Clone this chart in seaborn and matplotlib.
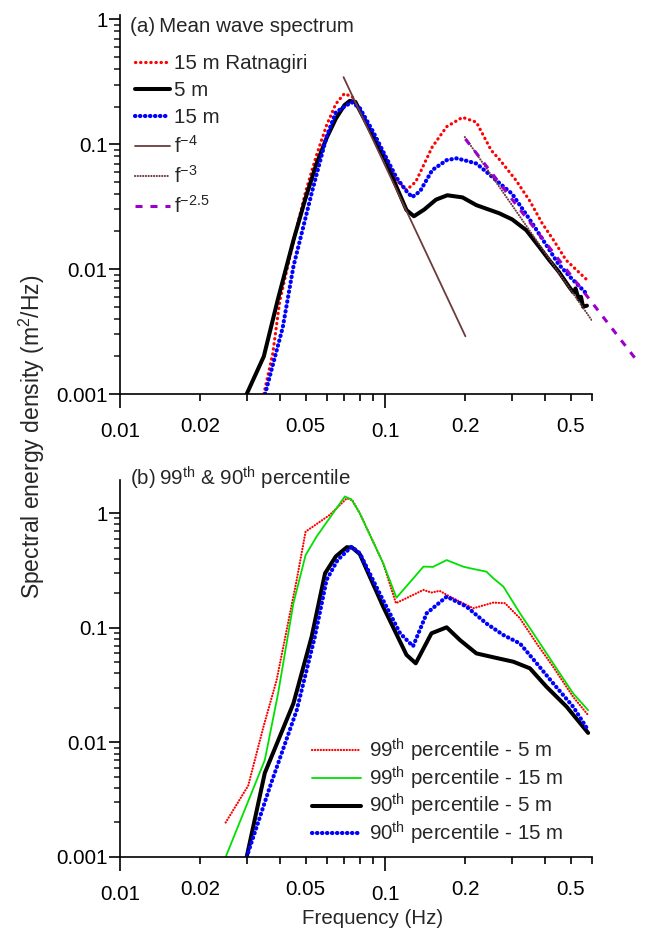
import numpy as np
import pandas as pd
import matplotlib
matplotlib.use("Agg")
import matplotlib.pyplot as plt
import seaborn as sns
from matplotlib.ticker import FixedLocator, NullFormatter, FuncFormatter

# ---------------- data ----------------
# (a) mean wave spectrum
f_ratnagiri = [0.0348, 0.0376, 0.040, 0.045, 0.050, 0.055, 0.060, 0.065, 0.070, 0.075, 0.080,
               0.090, 0.100, 0.110, 0.120, 0.130, 0.150, 0.170, 0.195, 0.220, 0.250, 0.270,
               0.310, 0.350, 0.389, 0.430, 0.479, 0.520, 0.574]
s_ratnagiri = [0.001, 0.0021, 0.0056, 0.0166, 0.0416, 0.082, 0.142, 0.21, 0.254, 0.239, 0.187,
               0.118, 0.079, 0.0515, 0.043, 0.050, 0.095, 0.138, 0.164, 0.150, 0.0895, 0.0745,
               0.0515, 0.035, 0.0233, 0.017, 0.0118, 0.0100, 0.0082]

f_5m = [0.030, 0.0348, 0.0393, 0.045, 0.050, 0.055, 0.060, 0.065, 0.070, 0.0733, 0.077,
        0.090, 0.100, 0.110, 0.120, 0.128, 0.140, 0.155, 0.171, 0.195, 0.220, 0.268, 0.300,
        0.339, 0.380, 0.414, 0.450, 0.492, 0.510, 0.520, 0.535, 0.545, 0.555, 0.574]
s_5m = [0.001, 0.002, 0.0057, 0.017, 0.037, 0.070, 0.112, 0.160, 0.205, 0.222, 0.218,
        0.115, 0.075, 0.0456, 0.0297, 0.0265, 0.030, 0.036, 0.039, 0.0375, 0.0325, 0.028, 0.025,
        0.0205, 0.015, 0.0118, 0.0095, 0.0072, 0.0065, 0.0070, 0.0057, 0.0060, 0.0050, 0.0051]

f_15m = [0.0352, 0.041, 0.045, 0.0527, 0.060, 0.065, 0.0745, 0.080, 0.090, 0.100, 0.110,
         0.120, 0.126, 0.135, 0.150, 0.170, 0.185, 0.200, 0.220, 0.240, 0.268, 0.300, 0.357,
         0.400, 0.448, 0.500, 0.540, 0.574]
s_15m = [0.001, 0.0034, 0.0105, 0.0405, 0.115, 0.180, 0.217, 0.195, 0.125, 0.080, 0.054,
         0.042, 0.0377, 0.042, 0.062, 0.0745, 0.077, 0.074, 0.070, 0.060, 0.049, 0.040, 0.0233,
         0.016, 0.011, 0.0085, 0.0072, 0.0063]

f_pow4 = [0.0695, 0.200]
s_pow4 = [0.344, 0.0029]
f_pow3 = [0.199, 0.598]
s_pow3 = [0.114, 0.0039]
f_pow25 = [0.200, 0.900]
s_pow25 = [0.110, 0.00177]

labels_a = ["15 m Ratnagiri", "5 m", "15 m", "f$^{-4}$", "f$^{-3}$", "f$^{-2.5}$"]

# (b) 99th and 90th percentile
f_p99_5 = [0.025, 0.0304, 0.0347, 0.0389, 0.0463, 0.050, 0.0618, 0.0715, 0.075, 0.080, 0.098,
           0.1095, 0.139, 0.149, 0.160, 0.175, 0.214, 0.255, 0.282, 0.321, 0.371, 0.428, 0.509, 0.580]
s_p99_5 = [0.002, 0.0042, 0.0137, 0.035, 0.262, 0.69, 0.97, 1.35, 1.30, 1.00, 0.366,
           0.164, 0.214, 0.203, 0.210, 0.187, 0.148, 0.166, 0.164, 0.121, 0.073, 0.0457, 0.025, 0.0173]

f_p99_15 = [0.025, 0.0351, 0.0394, 0.045, 0.050, 0.055, 0.0703, 0.0744, 0.080, 0.098, 0.110,
            0.139, 0.151, 0.170, 0.196, 0.208, 0.240, 0.255, 0.278, 0.321, 0.371, 0.428, 0.509, 0.580]
s_p99_15 = [0.001, 0.007, 0.0268, 0.164, 0.43, 0.625, 1.40, 1.32, 1.00, 0.366, 0.183,
            0.342, 0.340, 0.390, 0.342, 0.331, 0.309, 0.270, 0.229, 0.134, 0.081, 0.049, 0.0268, 0.0191]

f_p90_5 = [0.030, 0.0351, 0.045, 0.0527, 0.0592, 0.065, 0.0715, 0.075, 0.080, 0.098, 0.120,
           0.130, 0.149, 0.170, 0.191, 0.220, 0.255, 0.303, 0.350, 0.404, 0.481, 0.580]
s_p90_5 = [0.001, 0.0054, 0.0219, 0.0836, 0.299, 0.42, 0.505, 0.500, 0.440, 0.153, 0.058,
           0.049, 0.0895, 0.101, 0.078, 0.0598, 0.0553, 0.0506, 0.0443, 0.0306, 0.0205, 0.0121]

f_p90_15 = [0.030, 0.0367, 0.0463, 0.0542, 0.060, 0.066, 0.0745, 0.080, 0.095, 0.1135, 0.127,
            0.143, 0.170, 0.202, 0.240, 0.278, 0.321, 0.371, 0.428, 0.509, 0.580]
s_p90_15 = [0.001, 0.0041, 0.0191, 0.0836, 0.262, 0.39, 0.511, 0.447, 0.200, 0.0895, 0.069,
            0.134, 0.187, 0.153, 0.109, 0.0865, 0.073, 0.049, 0.0328, 0.0205, 0.0128]

labels_b = ["99$^{\\mathrm{th}}$ percentile - 5 m", "99$^{\\mathrm{th}}$ percentile - 15 m",
            "90$^{\\mathrm{th}}$ percentile - 5 m", "90$^{\\mathrm{th}}$ percentile - 15 m"]

x_major = [0.01, 0.1, 1.0]
x_major_labelled = {0.01: "0.01", 0.1: "0.1"}
x_minor = [0.02, 0.03, 0.04, 0.05, 0.06, 0.07, 0.08, 0.09, 0.2, 0.3, 0.4, 0.5, 0.6]
x_minor_labelled = {0.02: "0.02", 0.05: "0.05", 0.2: "0.2", 0.5: "0.5"}
y_major = [0.001, 0.01, 0.1, 1]
y_major_labels = ["0.001", "0.01", "0.1", "1"]

# ---------------- style ----------------
sns.set_style("ticks")
plt.rcParams["font.family"] = ["Liberation Sans", "DejaVu Sans"]
plt.rcParams["mathtext.fontset"] = "custom"
plt.rcParams["mathtext.rm"] = "Liberation Sans"
plt.rcParams["mathtext.it"] = "Liberation Sans:italic"
plt.rcParams["mathtext.bf"] = "Liberation Sans:bold"
FS = 14.8

RED = "#FF0000"
BLUE = "#0000FF"
GREEN = "#00E000"
BROWN = "#6B3C3C"
PURPLE = "#9A00CC"

fig = plt.figure(figsize=(6.46, 9.30), dpi=100)
ax1 = fig.add_axes([0.1858, 0.5763, 0.7307, 0.4075])
ax2 = fig.add_axes([0.1858, 0.0785, 0.7307, 0.4054])
for ax in (ax1, ax2):
    ax.set_xscale("log")
    ax.set_yscale("log")


def draw(ax, f, s, **kw):
    sns.lineplot(x=f, y=s, ax=ax, sort=False, estimator=None, **kw)
    return ax.get_lines()[-1]


# ---- panel (a)
h = []
h.append(draw(ax1, f_ratnagiri, s_ratnagiri, color=RED, lw=2.3,
              linestyle=(0, (0.1, 1.5)), dash_capstyle="round"))
h.append(draw(ax1, f_5m, s_5m, color="black", lw=2.9))
h.append(draw(ax1, f_15m, s_15m, color=BLUE, lw=3.0,
              linestyle=(0, (0.1, 1.1)), dash_capstyle="round"))
h.append(draw(ax1, f_pow4, s_pow4, color=BROWN, lw=1.3))
h.append(draw(ax1, f_pow3, s_pow3, color=BROWN, lw=1.5,
              linestyle=(0, (0.1, 1.2)), dash_capstyle="round"))
lp = draw(ax1, f_pow25, s_pow25, color=PURPLE, lw=2.2, linestyle=(0, (2.3, 2.6)))
lp.set_clip_on(False)
h.append(lp)

ax1.set_xlim(0.01, 0.6)
ax1.set_ylim(0.001, 1.08)
ax1.legend(h, labels_a, loc="upper left", bbox_to_anchor=(0.032, 0.897), frameon=False,
           fontsize=FS, borderaxespad=0, borderpad=0, handlelength=1.7,
           handletextpad=0.2, labelspacing=0.39)
ax1.text(0.021, 0.971, "(a)\u2009Mean wave spectrum", transform=ax1.transAxes,
         fontsize=FS, ha="left", va="center")

# ---- panel (b)
hb = []
hb.append(draw(ax2, f_p99_5, s_p99_5, color=RED, lw=1.6,
               linestyle=(0, (0.1, 1.2)), dash_capstyle="round"))
hb.append(draw(ax2, f_p99_15, s_p99_15, color=GREEN, lw=1.3))
hb.append(draw(ax2, f_p90_5, s_p90_5, color="black", lw=2.9))
hb.append(draw(ax2, f_p90_15, s_p90_15, color=BLUE, lw=3.0,
               linestyle=(0, (0.1, 1.1)), dash_capstyle="round"))
ax2.set_xlim(0.01, 0.6)
ax2.set_ylim(0.001, 1.95)
ax2.legend(hb, labels_b, loc="lower right", bbox_to_anchor=(0.94, 0.027), frameon=False,
           fontsize=FS, borderaxespad=0, borderpad=0, handlelength=2.4,
           handletextpad=0.4, labelspacing=0.02)
ax2.text(0.021, 1.005, "(b)\u200999$^{\\mathrm{th}}$ & 90$^{\\mathrm{th}}$ percentile",
         transform=ax2.transAxes, fontsize=FS, ha="left", va="center")

# ---- axes styling
for ax in (ax1, ax2):
    sns.despine(ax=ax)
    for sp in ("left", "bottom"):
        ax.spines[sp].set_linewidth(1.2)
        ax.spines[sp].set_color("black")
    ax.xaxis.set_major_locator(FixedLocator(x_major))
    ax.xaxis.set_minor_locator(FixedLocator(x_minor))
    ax.xaxis.set_major_formatter(FuncFormatter(lambda v, p: x_major_labelled.get(round(v, 3), "")))
    ax.xaxis.set_minor_formatter(FuncFormatter(lambda v, p: x_minor_labelled.get(round(v, 3), "")))
    ax.yaxis.set_major_locator(FixedLocator(y_major))
    ax.yaxis.set_major_formatter(FuncFormatter(lambda v, p: dict(zip(y_major, y_major_labels)).get(v, "")))
    ax.yaxis.set_minor_locator(FixedLocator([m * 10.0 ** e for e in (-3, -2, -1, 0)
                                             for m in range(2, 10)]))
    ax.yaxis.set_minor_formatter(NullFormatter())
    ax.tick_params(axis="x", which="major", direction="out", length=10, width=1.2,
                   pad=10, labelsize=FS, colors="black")
    ax.tick_params(axis="x", which="minor", direction="out", length=5, width=1.2,
                   pad=11.5, labelsize=FS, colors="black")
    ax.tick_params(axis="y", which="major", direction="out", length=8, width=1.2,
                   pad=1, labelsize=FS, colors="black")
    ax.tick_params(axis="y", which="minor", direction="out", length=4.3, width=1.2)
    ax.set_xlabel("")
    ax.set_ylabel("")
    ax.set_facecolor("white")

fig.text(0.049, 0.53, "Spectral energy density (m$^2$/Hz)", rotation=90,
         ha="center", va="center", fontsize=16.5)
fig.text(0.576, 0.0129, "Frequency (Hz)", ha="center", va="center", fontsize=FS)

fig.savefig("out.png", dpi=100, facecolor="white")
